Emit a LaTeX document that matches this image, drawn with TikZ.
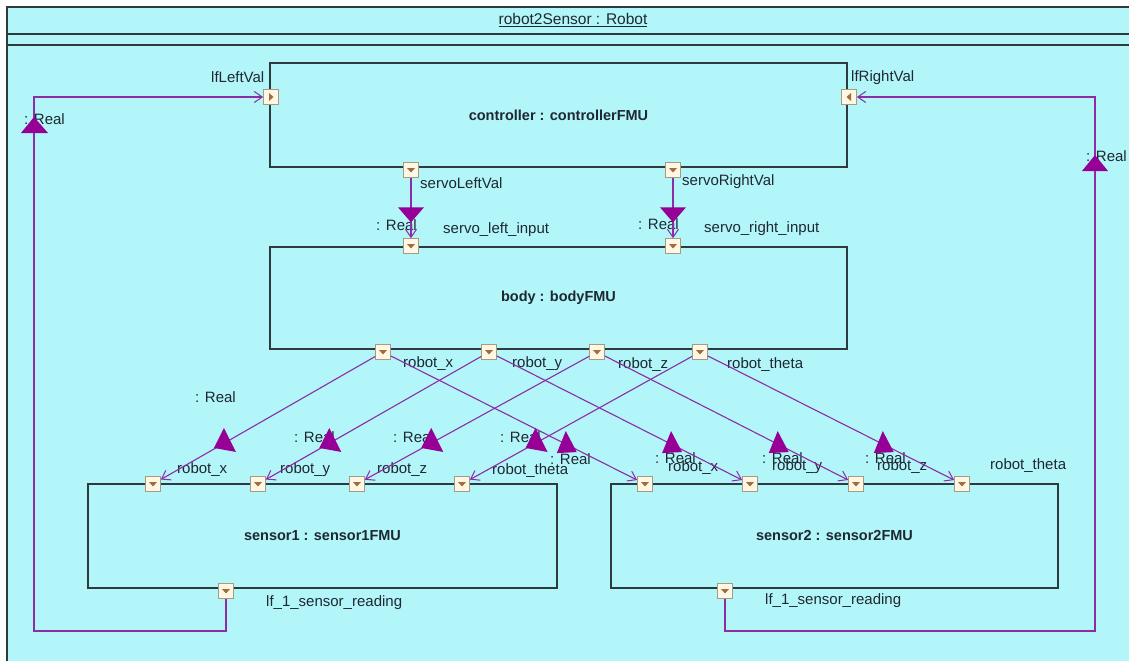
\documentclass[tikz,border=0pt]{standalone}
\usepackage{fontspec}
\setmainfont{Liberation Sans}
\usetikzlibrary{arrows.meta,calc}
\definecolor{bgc}{RGB}{179,246,250}
\definecolor{edgec}{RGB}{45,58,62}
\definecolor{conc}{RGB}{140,45,165}
\definecolor{tric}{RGB}{150,0,150}
\definecolor{portf}{RGB}{255,246,228}
\definecolor{portb}{RGB}{165,155,130}
\definecolor{porti}{RGB}{160,110,60}
\definecolor{txtc}{RGB}{30,40,50}
\begin{document}
\begin{tikzpicture}[x=1pt,y=-1pt,
  every node/.style={text=txtc},
  block/.style={draw=edgec, line width=1.8pt, rectangle, inner sep=0pt, font=\bfseries\fontsize{14.5}{17}\selectfont},
  port/.style={draw=portb, fill=portf, line width=0.7pt, minimum size=15pt, inner sep=0pt, rectangle},
  portd/.style={port, path picture={\fill[porti] ([xshift=-4pt,yshift=2pt]path picture bounding box.center) -- ++(8pt,0pt) -- ++(-4pt,-4.5pt) -- cycle;}},
  portr/.style={port, path picture={\fill[porti] ([xshift=-2pt,yshift=4pt]path picture bounding box.center) -- ++(0pt,-8pt) -- ++(4.5pt,4pt) -- cycle;}},
  portl/.style={port, path picture={\fill[porti] ([xshift=2pt,yshift=4pt]path picture bounding box.center) -- ++(0pt,-8pt) -- ++(-4.5pt,4pt) -- cycle;}},
  conn/.style={draw=conc, line width=1.1pt, -{Straight Barb[length=8pt,width=11pt,line width=1pt]}},
  lbl/.style={anchor=west, inner sep=0pt, font=\fontsize{15}{18}\selectfont},
  tri/.style={fill=tric}
]
\useasboundingbox (0,0) rectangle (1129,661);
\fill[white] (0,0) rectangle (1129,661);
\fill[bgc] (7,7) rectangle (1129,661);
\draw[edgec, line width=1.6pt] (7,661) -- (7,7) -- (1129,7);
\draw[edgec, line width=1.6pt] (7,34) -- (1129,34);
\draw[edgec, line width=1.6pt] (7,45) -- (1129,45);
\node[inner sep=0pt, font=\fontsize{15.5}{18}\selectfont] (title) at (573,20) {\underline{robot2Sensor : Robot}};

% blocks
\node[block, minimum width=577pt, minimum height=104pt] (ctrl) at (558.5,115) {controller : controllerFMU};
\node[block, minimum width=577pt, minimum height=102pt] (body) at (558.5,298) {body : bodyFMU};
\node[block, minimum width=469pt, minimum height=104pt] (sen1) at (322.5,536) {sensor1 : sensor1FMU};
\node[block, minimum width=447pt, minimum height=104pt] (sen2) at (834.5,536) {sensor2 : sensor2FMU};

% ports
\node[portr] (cL) at (271,97) {};
\node[portl] (cR) at (849,97) {};
\node[portd] (cSL) at (411,170) {};
\node[portd] (cSR) at (673,170) {};
\node[portd] (bSL) at (411,246) {};
\node[portd] (bSR) at (673,246) {};
\node[portd] (bX) at (383,352) {};
\node[portd] (bY) at (489,352) {};
\node[portd] (bZ) at (597,352) {};
\node[portd] (bT) at (700,352) {};
\node[portd] (s1X) at (153,484) {};
\node[portd] (s1Y) at (258,484) {};
\node[portd] (s1Z) at (357,484) {};
\node[portd] (s1T) at (462,484) {};
\node[portd] (s2X) at (645,484) {};
\node[portd] (s2Y) at (750,484) {};
\node[portd] (s2Z) at (856,484) {};
\node[portd] (s2T) at (962,484) {};
\node[portd] (s1R) at (226,591) {};
\node[portd] (s2R) at (725,591) {};

% port labels
\node[lbl] (lcL) at (211,77) {lfLeftVal};
\node[lbl] (lcR) at (851,78) {lfRightVal};
\node[lbl] (lcSL) at (420,183) {servoLeftVal};
\node[lbl] (lcSR) at (682,182) {servoRightVal};
\node[lbl] (lbSL) at (443,230) {servo\_left\_input};
\node[lbl] (lbSR) at (704,229) {servo\_right\_input};
\node[lbl] (lbX) at (403,364) {robot\_x};
\node[lbl] (lbY) at (512,364) {robot\_y};
\node[lbl] (lbZ) at (618,365) {robot\_z};
\node[lbl] (lbT) at (727,365) {robot\_theta};
\node[lbl] (ls1X) at (177,470) {robot\_x};
\node[lbl] (ls1Y) at (280,470) {robot\_y};
\node[lbl] (ls1Z) at (377,470) {robot\_z};
\node[lbl] (ls1T) at (492,471) {robot\_theta};
\node[lbl] (ls2X) at (668,468) {robot\_x};
\node[lbl] (ls2Y) at (772,467) {robot\_y};
\node[lbl] (ls2Z) at (877,467) {robot\_z};
\node[lbl] (ls2T) at (990,466) {robot\_theta};
\node[lbl] (ls1R) at (266,603) {lf\_1\_sensor\_reading};
\node[lbl] (ls2R) at (765,601) {lf\_1\_sensor\_reading};

% type labels
\node[lbl] (rL) at (24,119) {: Real};
\node[lbl] (rR) at (1086,156) {: Real};
\node[lbl] (rSL) at (376,225) {: Real};
\node[lbl] (rSR) at (638,224) {: Real};
\node[lbl] (r1X) at (195,397) {: Real};
\node[lbl] (r1Y) at (294,437) {: Real};
\node[lbl] (r1Z) at (393,437) {: Real};
\node[lbl] (r1T) at (500,437) {: Real};
\node[lbl] (r2X) at (550,459) {: Real};
\node[lbl] (r2Y) at (655,458) {: Real};
\node[lbl] (r2Z) at (762,458) {: Real};
\node[lbl] (r2T) at (865,458) {: Real};

% connectors
\coordinate (lb) at (34,631);
\coordinate (rb) at (1095,631);
\draw[conn] (s1R.south) |- (lb) |- (cL);
\draw[conn] (s2R.south) |- (rb) |- (cR);
\draw[conn] (cSL) -- (bSL);
\draw[conn] (cSR) -- (bSR);
\draw[conn] (bX) -- (s1X);
\draw[conn] (bY) -- (s1Y);
\draw[conn] (bZ) -- (s1Z);
\draw[conn] (bT) -- (s1T);
\draw[conn] (bX) -- (s2X);
\draw[conn] (bY) -- (s2Y);
\draw[conn] (bZ) -- (s2Z);
\draw[conn] (bT) -- (s2T);

% flow triangles
\fill[tri] (34,117) -- (48,133) -- (21,133) -- cycle;
\fill[tri] (1095,155) -- (1108,171) -- (1082,171) -- cycle;
\fill[tri] ($(cSL)!0.57!(bSL)$) ++(-13,-6) -- ++(26,0) -- ++(-13,15) -- cycle;
\fill[tri] ($(cSR)!0.57!(bSR)$) ++(-13,-6) -- ++(26,0) -- ++(-13,15) -- cycle;
\foreach \s/\t in {bX/s1X,bY/s1Y,bZ/s1Z,bT/s1T}{
  \fill[tri] ($(\s)!0.674!(\t)$) ++(-4,-13) -- ++(-10,20) -- ++(22,4) -- cycle;
}
\foreach \s/\t in {bX/s2X,bY/s2Y,bZ/s2Z,bT/s2T}{
  \fill[tri] ($(\s)!0.69!(\t)$) ++(2,-12) -- ++(-9,22) -- ++(20,-1) -- cycle;
}
\end{tikzpicture}
\end{document}
